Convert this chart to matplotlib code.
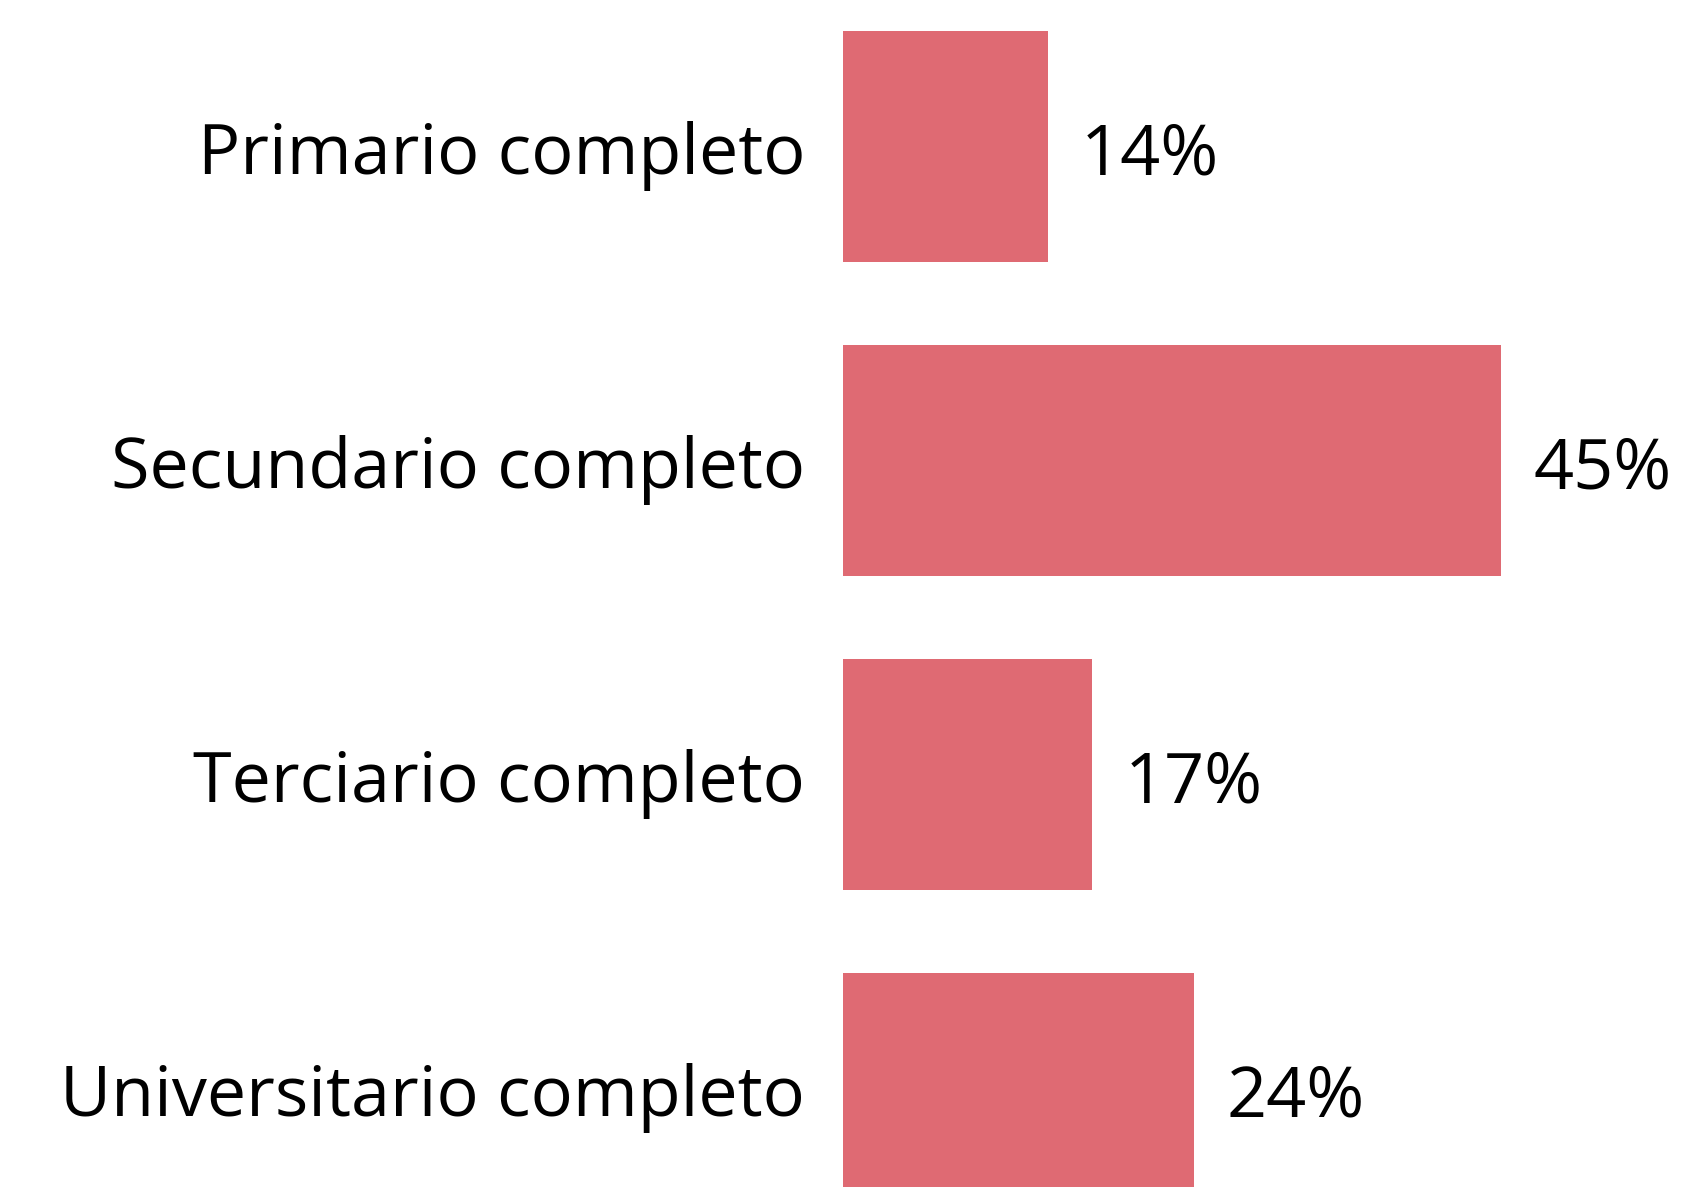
import matplotlib
matplotlib.use("Agg")
import matplotlib.pyplot as plt

categories = ["Primario completo", "Secundario completo", "Terciario completo", "Universitario completo"]
values = [14, 45, 17, 24]
value_labels = ["14%", "45%", "17%", "24%"]

plt.rcParams['font.family'] = ['Open Sans', 'DejaVu Sans']

W, H, DPI = 1685, 1187, 100
fig = plt.figure(figsize=(W / DPI, H / DPI), dpi=DPI)
ax = fig.add_axes([843 / W, 0, (W - 843) / W, 1])

px_per_unit = 14.62
ax.set_xlim(0, (W - 843) / px_per_unit)
ax.set_ylim((H - 146.4) / 314, -146.4 / 314)

y = list(range(len(categories)))
ax.barh(y, values, height=0.735, color="#DF6A73")

fs = 50.5
dy = -10 * 72 / DPI
for yi, v, lab, cat in zip(y, values, value_labels, categories):
    ax.annotate(lab, (v, yi), xytext=(33 * 72 / DPI, dy), textcoords="offset points",
                ha="left", va="center", fontsize=fs, color="black")
    ax.annotate(cat, (0, yi), xytext=(-38 * 72 / DPI, dy), textcoords="offset points",
                ha="right", va="center", fontsize=fs, color="black", annotation_clip=False)

ax.axis("off")
fig.savefig("out.png", dpi=DPI)
